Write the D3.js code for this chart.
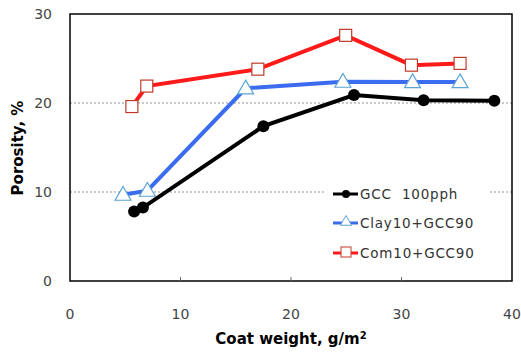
<!DOCTYPE html>
<html>
<head>
<meta charset="utf-8">
<script src="https://d3js.org/d3.v7.min.js"></script>
<style>
  body { margin: 0; background: #fff; }
  text { font-family: "DejaVu Sans", Arial, sans-serif; }
</style>
</head>
<body>
<svg id="chart" width="521" height="355"></svg>
<script>
var gccX = [5.8, 6.6, 17.5, 25.7, 32.0, 38.4];
var gccY = [7.8, 8.25, 17.4, 20.9, 20.3, 20.25];
var clayX = [4.8, 7.0, 15.9, 24.7, 31.0, 35.3];
var clayY = [9.7, 10.15, 21.65, 22.4, 22.35, 22.35];
var comX = [5.6, 6.95, 17.0, 24.95, 30.9, 35.3];
var comY = [19.6, 21.9, 23.8, 27.6, 24.25, 24.45];
var seriesNames = ["GCC  100pph", "Clay10+GCC90", "Com10+GCC90"];
var xTicks = [0, 10, 20, 30, 40];
var yTicks = [0, 10, 20, 30];

var svg = d3.select('#chart');
var pLeft = 70, pRight = 512, pTop = 14, pBottom = 281;

var x = d3.scaleLinear().domain([0, 40]).range([pLeft, pRight]);
var y = d3.scaleLinear().domain([0, 30]).range([pBottom, pTop]);

// gridlines
svg.selectAll('line.grid')
  .data([10, 20])
  .enter().append('line')
  .attr('x1', pLeft).attr('x2', pRight)
  .attr('y1', function(d) { return y(d); })
  .attr('y2', function(d) { return y(d); })
  .attr('stroke', '#777').attr('stroke-width', 0.8)
  .attr('stroke-dasharray', '2,2');

// plot border
svg.append('rect')
  .attr('x', pLeft).attr('y', pTop)
  .attr('width', pRight - pLeft).attr('height', pBottom - pTop)
  .attr('fill', 'none').attr('stroke', '#000').attr('stroke-width', 1.5);

// small inner ticks on x axis
svg.selectAll('line.xt')
  .data(xTicks.slice(1, 4))
  .enter().append('line')
  .attr('x1', function(d) { return x(d); })
  .attr('x2', function(d) { return x(d); })
  .attr('y1', pBottom).attr('y2', pBottom - 4)
  .attr('stroke', '#666').attr('stroke-width', 1);

// tick labels
svg.selectAll('text.yl')
  .data(yTicks)
  .enter().append('text')
  .attr('x', 52)
  .attr('y', function(d) { return y(d) + 5; })
  .attr('text-anchor', 'end')
  .attr('font-size', 14).attr('fill', '#444')
  .text(function(d) { return d; });

svg.selectAll('text.xl')
  .data(xTicks)
  .enter().append('text')
  .attr('x', function(d) { return x(d); })
  .attr('y', 319)
  .attr('text-anchor', 'middle')
  .attr('font-size', 14).attr('fill', '#444')
  .text(function(d) { return d; });

// axis titles
svg.append('text')
  .attr('transform', 'translate(23,148) rotate(-90)')
  .attr('text-anchor', 'middle')
  .attr('font-size', 15).attr('font-weight', 'bold')
  .attr('font-family', 'Arial, "Liberation Sans", sans-serif')
  .text('Porosity, %');

var xt = svg.append('text')
  .attr('x', 291).attr('y', 344)
  .attr('text-anchor', 'middle')
  .attr('font-size', 15).attr('font-weight', 'bold')
  .attr('font-family', 'Arial, "Liberation Sans", sans-serif');
xt.append('tspan').text('Coat weight, g/m');
xt.append('tspan').attr('dy', -5).attr('font-size', 10).text('2');

var line = d3.line()
  .x(function(d) { return x(d[0]); })
  .y(function(d) { return y(d[1]); });

function pts(xs, ys) { return xs.map(function(v, i) { return [v, ys[i]]; }); }

var gcc = pts(gccX, gccY), clay = pts(clayX, clayY), com = pts(comX, comY);

// legend background
svg.append('rect')
  .attr('x', 325).attr('y', 180).attr('width', 165).attr('height', 86)
  .attr('fill', '#fff');

var triSym = d3.symbol().type(d3.symbolTriangle).size(110);

function drawCom(sel, data) {
  sel.append('path').datum(data).attr('d', line)
    .attr('fill', 'none').attr('stroke', '#ff1a1a').attr('stroke-width', 4);
  sel.selectAll('rect.m').data(data).enter().append('rect')
    .attr('x', function(d) { return x(d[0]) - 6; })
    .attr('y', function(d) { return y(d[1]) - 6; })
    .attr('width', 12).attr('height', 12)
    .attr('fill', '#fff').attr('stroke', '#c0392b').attr('stroke-width', 1.2);
}
function drawClay(sel, data) {
  sel.append('path').datum(data).attr('d', line)
    .attr('fill', 'none').attr('stroke', '#3b6cf0').attr('stroke-width', 4);
  sel.selectAll('path.m').data(data).enter().append('path')
    .attr('d', triSym)
    .attr('transform', function(d) { return 'translate(' + x(d[0]) + ',' + (y(d[1]) + 1) + ')'; })
    .attr('fill', '#fff').attr('stroke', '#5ca3d6').attr('stroke-width', 1.2);
}
function drawGcc(sel, data) {
  sel.append('path').datum(data).attr('d', line)
    .attr('fill', 'none').attr('stroke', '#000').attr('stroke-width', 4);
  sel.selectAll('circle').data(data).enter().append('circle')
    .attr('cx', function(d) { return x(d[0]); })
    .attr('cy', function(d) { return y(d[1]); })
    .attr('r', 6).attr('fill', '#000');
}

drawCom(svg.append('g'), com);
drawClay(svg.append('g'), clay);
drawGcc(svg.append('g'), gcc);

// legend
var legY = [194, 223, 253];
var lg = svg.append('g');
[0, 1, 2].forEach(function(i) {
  var yy = legY[i];
  var col = ['#000', '#3b6cf0', '#ff1a1a'][i];
  lg.append('line').attr('x1', 333).attr('x2', 358).attr('y1', yy).attr('y2', yy)
    .attr('stroke', col).attr('stroke-width', 3);
  if (i === 0) {
    lg.append('circle').attr('cx', 346).attr('cy', yy).attr('r', 4).attr('fill', '#000');
  } else if (i === 1) {
    lg.append('path').attr('d', d3.symbol().type(d3.symbolTriangle).size(55))
      .attr('transform', 'translate(346,' + (yy - 1) + ')')
      .attr('fill', '#fff').attr('stroke', '#5ca3d6').attr('stroke-width', 1);
  } else {
    lg.append('rect').attr('x', 341).attr('y', yy - 6).attr('width', 10).attr('height', 10)
      .attr('fill', '#fff').attr('stroke', '#c0392b').attr('stroke-width', 1);
  }
  lg.append('text').attr('x', 360).attr('y', yy + 5)
    .attr('font-size', 13.5).attr('fill', '#333')
    .attr('letter-spacing', 0.8)
    .style('white-space', 'pre')
    .text(seriesNames[i]);
});
</script>
</body>
</html>
